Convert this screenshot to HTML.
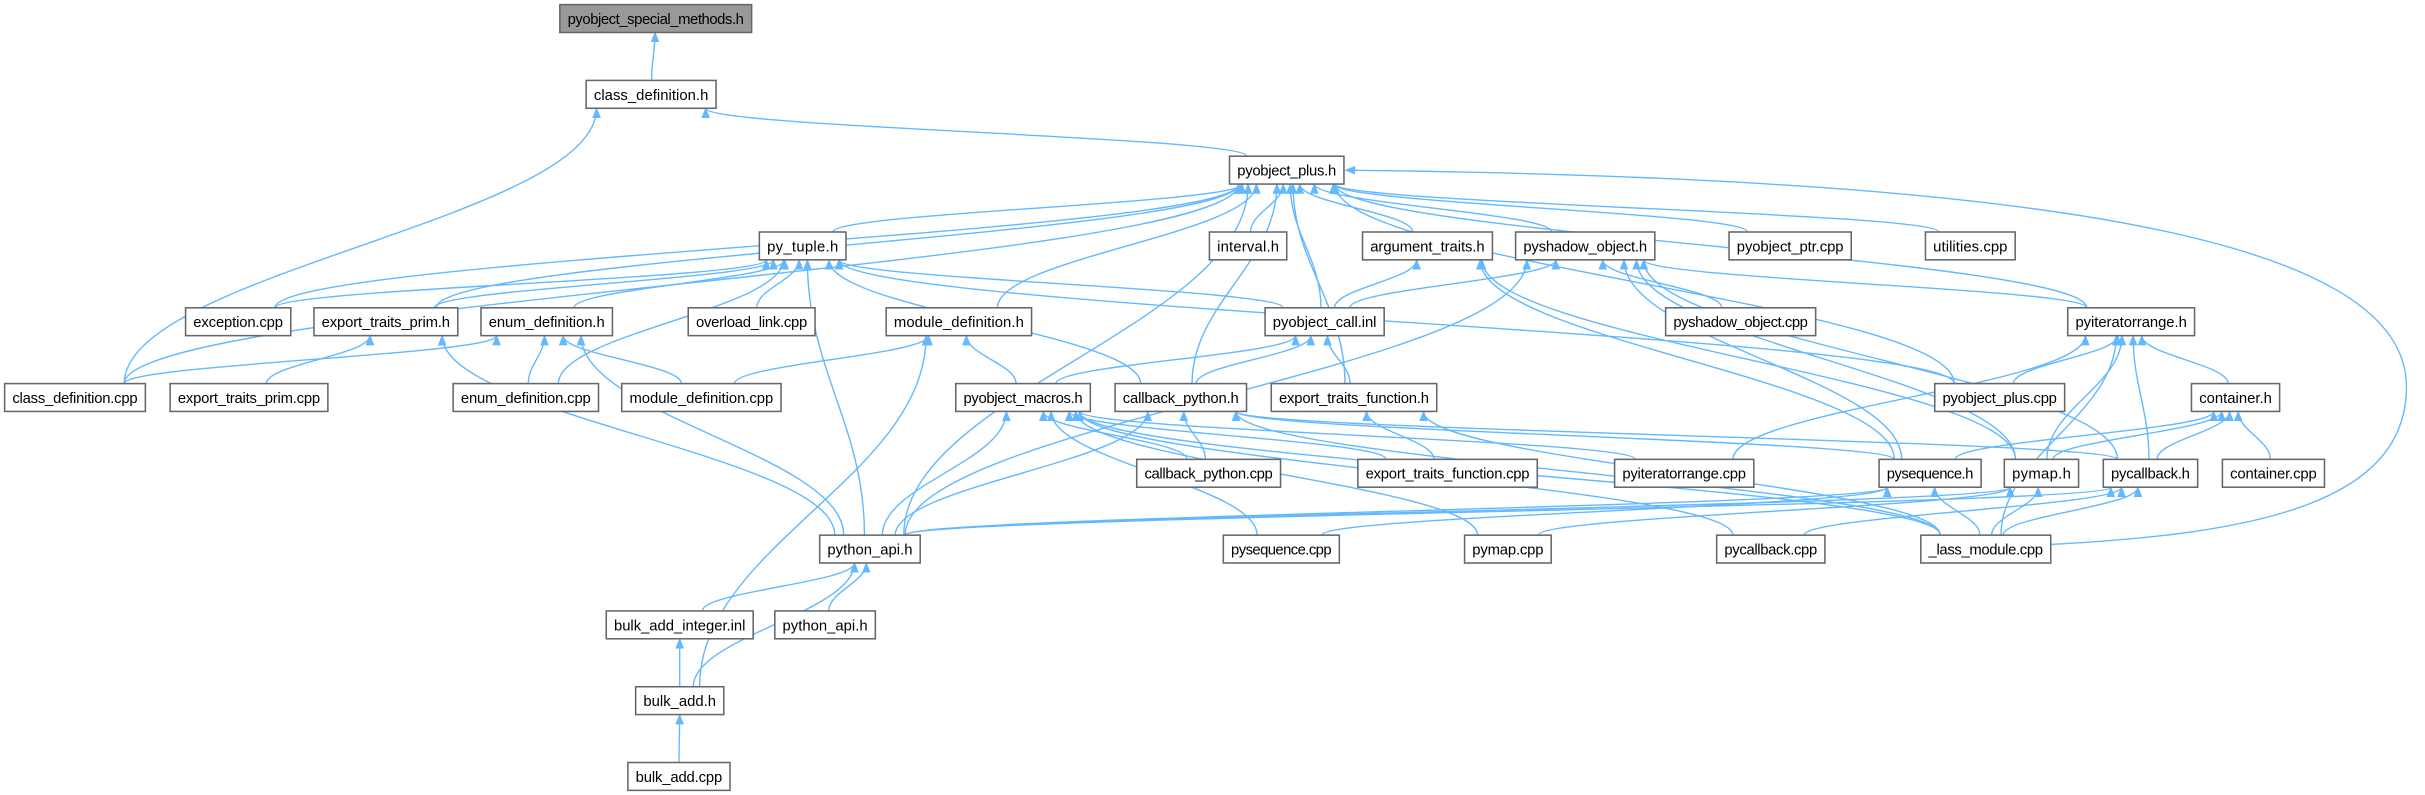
<!DOCTYPE html>
<html><head><meta charset="utf-8"><style>
html,body{margin:0;padding:0;background:#fff;width:2425px;height:795px;overflow:hidden}
svg text{font-family:"Liberation Sans",sans-serif;font-size:9.6px;fill:#000}
</style></head><body>
<svg id="s" width="2425" height="795" viewBox="0 0 1568 514" preserveAspectRatio="none" xmlns="http://www.w3.org/2000/svg">
<defs><marker id="a" viewBox="0 0 10 10" refX="9" refY="5" markerWidth="7" markerHeight="7" orient="auto-start-reverse" markerUnits="userSpaceOnUse"><path d="M0,1 L10,5 L0,9 z" fill="#63b8ff"/></marker></defs>
<g id="edges" fill="none" stroke="#63b8ff" stroke-width="0.9"></g>
<g id="nodes" stroke="#666" stroke-width="1">
<rect x="362" y="3" width="124" height="18" fill="#999"/><text x="424" y="15.5" text-anchor="middle" stroke="none" textLength="114">pyobject_special_methods.h</text>
<rect x="379" y="52" width="84" height="18" fill="#fff"/><text x="421" y="64.5" text-anchor="middle" stroke="none" textLength="74">class_definition.h</text>
<rect x="795" y="101" width="74" height="18" fill="#fff"/><text x="832" y="113.5" text-anchor="middle" stroke="none" textLength="64">pyobject_plus.h</text>
<rect x="491" y="150" width="56" height="18" fill="#fff"/><text x="519" y="162.5" text-anchor="middle" stroke="none" textLength="46">py_tuple.h</text>
<rect x="782" y="150" width="50" height="18" fill="#fff"/><text x="807" y="162.5" text-anchor="middle" stroke="none" textLength="40">interval.h</text>
<rect x="881" y="150" width="84" height="18" fill="#fff"/><text x="923" y="162.5" text-anchor="middle" stroke="none" textLength="74">argument_traits.h</text>
<rect x="980" y="150" width="90" height="18" fill="#fff"/><text x="1025" y="162.5" text-anchor="middle" stroke="none" textLength="80">pyshadow_object.h</text>
<rect x="1118" y="150" width="79" height="18" fill="#fff"/><text x="1157.5" y="162.5" text-anchor="middle" stroke="none" textLength="69">pyobject_ptr.cpp</text>
<rect x="1245" y="150" width="58" height="18" fill="#fff"/><text x="1274" y="162.5" text-anchor="middle" stroke="none" textLength="48">utilities.cpp</text>
<rect x="120" y="199" width="68" height="18" fill="#fff"/><text x="154" y="211.5" text-anchor="middle" stroke="none" textLength="58">exception.cpp</text>
<rect x="203" y="199" width="93" height="18" fill="#fff"/><text x="249.5" y="211.5" text-anchor="middle" stroke="none" textLength="83">export_traits_prim.h</text>
<rect x="311" y="199" width="85" height="18" fill="#fff"/><text x="353.5" y="211.5" text-anchor="middle" stroke="none" textLength="75">enum_definition.h</text>
<rect x="445" y="199" width="82" height="18" fill="#fff"/><text x="486" y="211.5" text-anchor="middle" stroke="none" textLength="72">overload_link.cpp</text>
<rect x="573" y="199" width="94" height="18" fill="#fff"/><text x="620" y="211.5" text-anchor="middle" stroke="none" textLength="84">module_definition.h</text>
<rect x="818" y="199" width="77" height="18" fill="#fff"/><text x="856.5" y="211.5" text-anchor="middle" stroke="none" textLength="67">pyobject_call.inl</text>
<rect x="1077" y="199" width="97" height="18" fill="#fff"/><text x="1125.5" y="211.5" text-anchor="middle" stroke="none" textLength="87">pyshadow_object.cpp</text>
<rect x="1337" y="199" width="82" height="18" fill="#fff"/><text x="1378" y="211.5" text-anchor="middle" stroke="none" textLength="72">pyiteratorrange.h</text>
<rect x="3" y="248" width="91" height="18" fill="#fff"/><text x="48.5" y="260.5" text-anchor="middle" stroke="none" textLength="81">class_definition.cpp</text>
<rect x="110" y="248" width="102" height="18" fill="#fff"/><text x="161" y="260.5" text-anchor="middle" stroke="none" textLength="92">export_traits_prim.cpp</text>
<rect x="293" y="248" width="94" height="18" fill="#fff"/><text x="340" y="260.5" text-anchor="middle" stroke="none" textLength="84">enum_definition.cpp</text>
<rect x="402" y="248" width="103" height="18" fill="#fff"/><text x="453.5" y="260.5" text-anchor="middle" stroke="none" textLength="93">module_definition.cpp</text>
<rect x="618" y="248" width="87" height="18" fill="#fff"/><text x="661.5" y="260.5" text-anchor="middle" stroke="none" textLength="77">pyobject_macros.h</text>
<rect x="721" y="248" width="85" height="18" fill="#fff"/><text x="763.5" y="260.5" text-anchor="middle" stroke="none" textLength="75">callback_python.h</text>
<rect x="822" y="248" width="107" height="18" fill="#fff"/><text x="875.5" y="260.5" text-anchor="middle" stroke="none" textLength="97">export_traits_function.h</text>
<rect x="1251" y="248" width="84" height="18" fill="#fff"/><text x="1293" y="260.5" text-anchor="middle" stroke="none" textLength="74">pyobject_plus.cpp</text>
<rect x="1417" y="248" width="57" height="18" fill="#fff"/><text x="1445.5" y="260.5" text-anchor="middle" stroke="none" textLength="47">container.h</text>
<rect x="735" y="297" width="93" height="18" fill="#fff"/><text x="781.5" y="309.5" text-anchor="middle" stroke="none" textLength="83">callback_python.cpp</text>
<rect x="878" y="297" width="116" height="18" fill="#fff"/><text x="936" y="309.5" text-anchor="middle" stroke="none" textLength="106">export_traits_function.cpp</text>
<rect x="1044" y="297" width="90" height="18" fill="#fff"/><text x="1089" y="309.5" text-anchor="middle" stroke="none" textLength="80">pyiteratorrange.cpp</text>
<rect x="1215" y="297" width="66" height="18" fill="#fff"/><text x="1248" y="309.5" text-anchor="middle" stroke="none" textLength="56">pysequence.h</text>
<rect x="1296" y="297" width="48" height="18" fill="#fff"/><text x="1320" y="309.5" text-anchor="middle" stroke="none" textLength="38">pymap.h</text>
<rect x="1360" y="297" width="61" height="18" fill="#fff"/><text x="1390.5" y="309.5" text-anchor="middle" stroke="none" textLength="51">pycallback.h</text>
<rect x="1437" y="297" width="66" height="18" fill="#fff"/><text x="1470" y="309.5" text-anchor="middle" stroke="none" textLength="56">container.cpp</text>
<rect x="530" y="346" width="65" height="18" fill="#fff"/><text x="562.5" y="358.5" text-anchor="middle" stroke="none" textLength="55">python_api.h</text>
<rect x="791" y="346" width="75" height="18" fill="#fff"/><text x="828.5" y="358.5" text-anchor="middle" stroke="none" textLength="65">pysequence.cpp</text>
<rect x="947" y="346" width="56" height="18" fill="#fff"/><text x="975" y="358.5" text-anchor="middle" stroke="none" textLength="46">pymap.cpp</text>
<rect x="1110" y="346" width="70" height="18" fill="#fff"/><text x="1145" y="358.5" text-anchor="middle" stroke="none" textLength="60">pycallback.cpp</text>
<rect x="1242" y="346" width="84" height="18" fill="#fff"/><text x="1284" y="358.5" text-anchor="middle" stroke="none" textLength="74">_lass_module.cpp</text>
<rect x="392" y="395" width="95" height="18" fill="#fff"/><text x="439.5" y="407.5" text-anchor="middle" stroke="none" textLength="85">bulk_add_integer.inl</text>
<rect x="501" y="395" width="65" height="18" fill="#fff"/><text x="533.5" y="407.5" text-anchor="middle" stroke="none" textLength="55">python_api.h</text>
<rect x="411" y="444" width="57" height="18" fill="#fff"/><text x="439.5" y="456.5" text-anchor="middle" stroke="none" textLength="47">bulk_add.h</text>
<rect x="406" y="493" width="66" height="18" fill="#fff"/><text x="439" y="505.5" text-anchor="middle" stroke="none" textLength="56">bulk_add.cpp</text>
</g>
</svg>
<script>
var N={sm:[362,486,3],cdh:[379,463,52],pp:[795,869,101],pt:[491,547,150],iv:[782,832,150],at:[881,965,150],so:[980,1070,150],ptr:[1118,1197,150],ut:[1245,1303,150],
ex:[120,188,199],etp:[203,296,199],ed:[311,396,199],ol:[445,527,199],md:[573,667,199],pc:[818,895,199],soc:[1077,1174,199],ir:[1337,1419,199],
cdc:[3,94,248],etpc:[110,212,248],edc:[293,387,248],mdc:[402,505,248],pm:[618,705,248],cb:[721,806,248],etf:[822,929,248],ppc:[1251,1335,248],ct:[1417,1474,248],
cbc:[735,828,297],etfc:[878,994,297],irc:[1044,1134,297],ps:[1215,1281,297],pmap:[1296,1344,297],pcb:[1360,1421,297],ctc:[1437,1503,297],
pa:[530,595,346],psc:[791,866,346],pmc:[947,1003,346],pcbc:[1110,1180,346],lm:[1242,1326,346],
bai:[392,487,395],pa2:[501,566,395],ba:[411,468,444],bac:[406,472,493]};
var E=[["cdh","sm"],["pp","cdh"],["cdc","cdh"],["cdc","pp"],["ex","pp"],["ex","pt"],["etp","pp"],["etp","pt"],["ed","pt"],["ol","pt"],["md","pp"],["pt","pp"],
["iv","pp"],["at","pp"],["so","pp"],["ptr","pp"],["ut","pp"],["pc","pp"],["pc","pt"],["pc","at"],["pc","so"],["soc","so"],["ir","pp"],["ir","so"],
["cdc","ed"],["etpc","etp"],["edc","ed"],["edc","pt"],["mdc","ed"],["mdc","md"],["pm","pc"],["pm","md"],["cb","pc"],["cb","pp"],["cb","pt"],
["etf","pc"],["etf","pp"],["ppc","pp"],["ppc","pt"],["ppc","ir"],["ct","ir"],["cbc","pm"],["cbc","cb"],["etfc","pm"],["etfc","etf"],["irc","pm"],["irc","ir"],
["ps","ct"],["ps","so"],["ps","at"],["ps","cb"],["pmap","ct"],["pmap","ir"],["pmap","so"],["pmap","at"],["pcb","ct"],["pcb","ir"],["pcb","cb"],["pcb","so"],["ctc","ct"],
["pa","pt"],["pa","pp"],["pa","pm"],["pa","ps"],["pa","pmap"],["pa","pcb"],["pa","cb"],["pa","ed"],["pa","etp"],["pa","so"],
["psc","pm"],["psc","ps"],["pmc","pm"],["pmc","pmap"],["pcbc","pm"],["pcbc","pcb"],["lm","pm"],["lm","ps"],["lm","pmap"],["lm","pcb"],["lm","ir"],["lm","cb"],["lm","etf"],
["bai","pa"],["pa2","pa"],["ba","bai"],["ba","pa"],["ba","md"],["bac","ba"]];
var g=document.getElementById("edges"),s="";
E.forEach(function(e){var c=N[e[0]],p=N[e[1]];
var cx=(c[0]+c[1])/2,cy=c[2],px=(p[0]+p[1])/2,py=p[2]+18;
var t=Math.max(-0.42,Math.min(0.42,(cx-px)/800));
var ex=px+t*(p[1]-p[0]);
var sx=cx+Math.max(-0.35,Math.min(0.35,(px-cx)/800))*(c[1]-c[0]);
var dy=cy-py;
s+='<path d="M'+sx+','+cy+' C'+sx+','+(cy-dy*0.4)+' '+ex+','+(py+dy*0.4)+' '+ex+','+py+'" marker-end="url(#a)"/>';});
s+='<path d="M1326,352 C1460,345 1556,325 1556,250 C1556,150 1300,115 870,110" marker-end="url(#a)"/>';
g.innerHTML=s;
</script>
</body></html>
